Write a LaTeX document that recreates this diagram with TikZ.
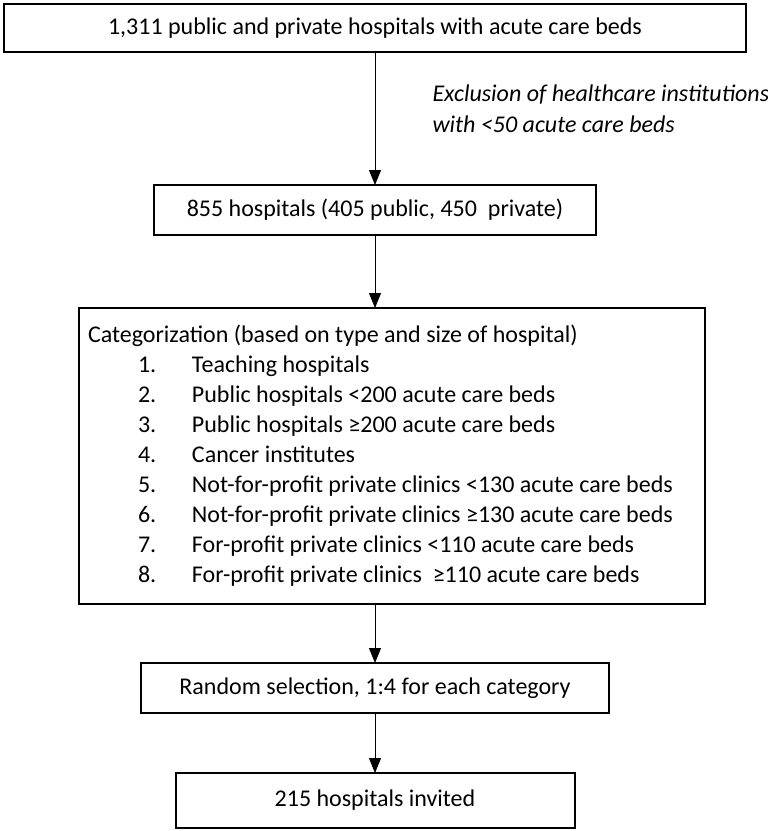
\documentclass[tikz,border=0pt]{standalone}
\usepackage{fontspec}
\setmainfont{Carlito}
\usetikzlibrary{positioning, arrows.meta}

\newcommand\catitem[2]{\mbox{\hspace*{25pt}\makebox[27pt][l]{#1}#2}}

\begin{document}
\begin{tikzpicture}[x=0.5pt, y=-0.5pt,
                >={Triangle[length=7.5pt,width=6pt]},
                line width=0.5pt,
                font=\fontsize{12}{15}\selectfont,
                box/.style={draw, line width=1pt, outer sep=0pt, inner sep=0pt, align=center},
                note/.style={font=\fontsize{12}{15.5}\selectfont\itshape, align=left, anchor=west, inner sep=0pt}
                ]
    \useasboundingbox (0,0) rectangle (767,831);

    % Nodes
    \node[box, minimum width=371pt, minimum height=24pt] (all) at (375,28)
        {1,311 public and private hospitals with acute care beds};
    \node[box, minimum width=221pt, minimum height=25pt] (size) [below=66.5pt of all]
        {855 hospitals (405 public, 450\ \ private)};
    \node[box, text width=304pt, inner xsep=4.5pt, minimum height=148pt, align=flush left] (cat) [below=36.5pt of size, xshift=8.5pt]
        {Categorization (based on type and size of hospital)\\
         \catitem{1.}{Teaching hospitals}\\
         \catitem{2.}{Public hospitals <200 acute care beds}\\
         \catitem{3.}{Public hospitals ≥200 acute care beds}\\
         \catitem{4.}{Cancer institutes}\\
         \catitem{5.}{Not-for-profit private clinics <130 acute care beds}\\
         \catitem{6.}{Not-for-profit private clinics ≥130 acute care beds}\\
         \catitem{7.}{For-profit private clinics <110 acute care beds}\\
         \catitem{8.}{For-profit private clinics\ \ ≥110 acute care beds}};
    \node[box, minimum width=234pt, minimum height=25pt] (sel) [below=29.5pt of cat.south -| size, anchor=north]
        {Random selection, 1:4 for each category};
    \node[box, minimum width=199.5pt, minimum height=27.5pt] (inv) [below=30pt of sel]
        {215 hospitals invited};
    \node[note] (excl) at (432,109)
        {Exclusion of healthcare institutions\\with <50 acute care beds};

    % Paths
    \path[->]
    (all) edge (size)
    (size) edge (size |- cat.north)
    (cat.south -| sel) edge (sel)
    (sel) edge (inv);
\end{tikzpicture}
\end{document}
